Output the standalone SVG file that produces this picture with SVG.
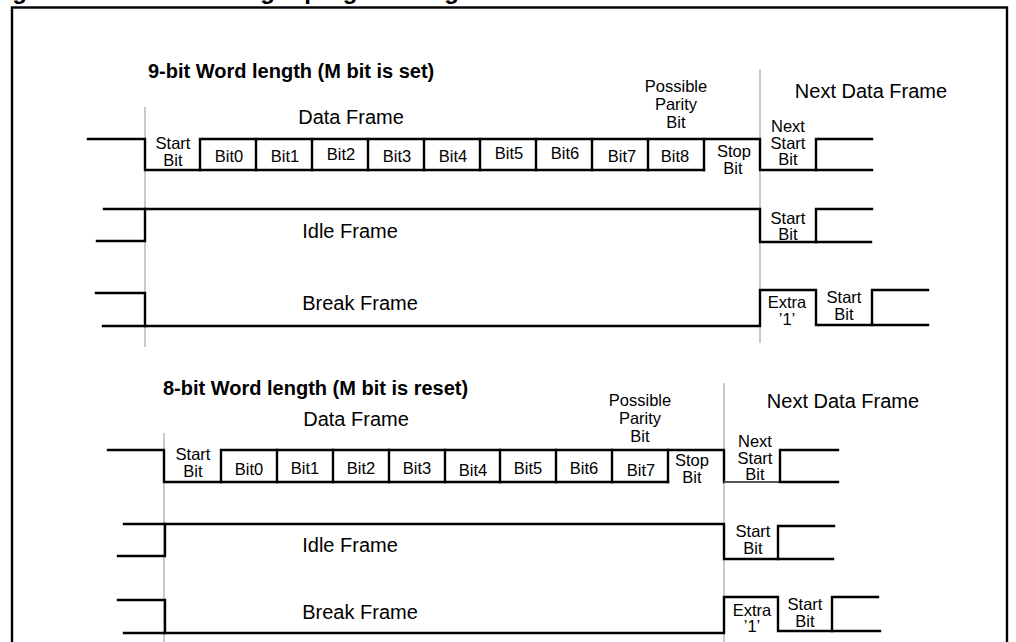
<svg xmlns="http://www.w3.org/2000/svg" width="1016" height="642" viewBox="0 0 1016 642">
<style>
.frame{fill:none;stroke:#000;stroke-width:2.4}
.grid{stroke:#bdbdbd;stroke-width:1.6;fill:none}
.w{stroke:#000;stroke-width:2.4;fill:none;stroke-linecap:square;stroke-linejoin:miter}
.wg{stroke:#555;stroke-width:2;fill:none}
text{font-family:"Liberation Sans",Arial,Helvetica,sans-serif;fill:#000}
.cap{font-size:24px;font-weight:bold}
.h{font-size:20px;font-weight:bold}
.l{font-size:20px;text-anchor:middle}
.s{font-size:16.5px;text-anchor:middle}
</style>
<rect id="frame" class="frame" x="12" y="7.5" width="995" height="660"/>
<g id="caption">
<text class="cap" x="-9" y="-1">Figure</text>
<text class="cap" x="158" y="-1">Word length programming</text>
</g>

<g id="section-9bit">
<text id="title-9bit" class="h" x="148" y="78">9-bit Word length (M bit is set)</text>
<g id="guides-9bit">
<line class="grid" x1="145" y1="107" x2="145" y2="347"/>
<line class="grid" x1="760" y1="69" x2="760" y2="343"/>
</g>
<g id="data-frame-9bit">
<text class="l" x="351" y="124">Data Frame</text>
<text class="l" x="871" y="98">Next Data Frame</text>
<text class="s" x="676" y="92">Possible</text>
<text class="s" x="676" y="110">Parity</text>
<text class="s" x="676" y="128">Bit</text>
<text class="s" x="173" y="149">Start</text>
<text class="s" x="173" y="166">Bit</text>
<text class="s" x="229" y="162">Bit0</text>
<text class="s" x="285" y="162">Bit1</text>
<text class="s" x="341" y="160">Bit2</text>
<text class="s" x="397" y="162">Bit3</text>
<text class="s" x="453" y="162">Bit4</text>
<text class="s" x="509" y="159">Bit5</text>
<text class="s" x="565" y="159">Bit6</text>
<text class="s" x="622" y="162">Bit7</text>
<text class="s" x="675" y="162">Bit8</text>
<text class="s" x="734" y="157">Stop</text>
<text class="s" x="733" y="174">Bit</text>
<text class="s" x="788" y="132">Next</text>
<text class="s" x="788" y="149">Start</text>
<text class="s" x="788" y="165">Bit</text>
</g>
<g id="idle-frame-9bit">
<text class="l" x="350" y="238">Idle Frame</text>
<text class="s" x="788" y="224">Start</text>
<text class="s" x="788" y="240">Bit</text>
</g>
<g id="break-frame-9bit">
<text class="l" x="360" y="310">Break Frame</text>
<text class="s" x="787" y="308">Extra</text>
<text class="s" x="787" y="325">’1’</text>
<text class="s" x="844" y="303">Start</text>
<text class="s" x="844" y="320">Bit</text>
</g>
</g>

<g id="section-8bit">
<text id="title-8bit" class="h" x="163" y="395">8-bit Word length (M bit is reset)</text>
<g id="guides-8bit">
<line class="grid" x1="164" y1="433" x2="164" y2="642"/>
<line class="grid" x1="724" y1="383" x2="724" y2="642"/>
</g>
<g id="data-frame-8bit">
<text class="l" x="356" y="426">Data Frame</text>
<text class="l" x="843" y="408">Next Data Frame</text>
<text class="s" x="640" y="406">Possible</text>
<text class="s" x="640" y="424">Parity</text>
<text class="s" x="640" y="442">Bit</text>
<text class="s" x="193" y="460">Start</text>
<text class="s" x="193" y="477">Bit</text>
<text class="s" x="249" y="475">Bit0</text>
<text class="s" x="305" y="474">Bit1</text>
<text class="s" x="361" y="474">Bit2</text>
<text class="s" x="417" y="474">Bit3</text>
<text class="s" x="473" y="476">Bit4</text>
<text class="s" x="528" y="474">Bit5</text>
<text class="s" x="584" y="474">Bit6</text>
<text class="s" x="641" y="476">Bit7</text>
<text class="s" x="692" y="466">Stop</text>
<text class="s" x="692" y="483">Bit</text>
<text class="s" x="755" y="447">Next</text>
<text class="s" x="755" y="464">Start</text>
<text class="s" x="755" y="480">Bit</text>
</g>
<g id="idle-frame-8bit">
<text class="l" x="350" y="552">Idle Frame</text>
<text class="s" x="753" y="537">Start</text>
<text class="s" x="753" y="554">Bit</text>
</g>
<g id="break-frame-8bit">
<text class="l" x="360" y="619">Break Frame</text>
<text class="s" x="752" y="616">Extra</text>
<text class="s" x="752" y="632">’1’</text>
<text class="s" x="805" y="610">Start</text>
<text class="s" x="805" y="627">Bit</text>
</g>
</g>

<g id="connectors">
<g id="wave-data-9bit">
<path class="w" d="M88,139 H145 V170 H704"/>
<path class="w" d="M200,170 V139 H760 V170 H872"/>
<path class="w" d="M816,170 V139 H872"/>
<path class="w" d="M256,139 V170 M312,139 V170 M368,139 V170 M424,139 V170 M480,139 V170 M536,139 V170 M592,139 V170 M648,139 V170 M704,139 V170"/>
</g>
<g id="wave-idle-9bit">
<path class="w" d="M104,209 H760 V242 H871"/>
<path class="w" d="M97,241 H145 V209"/>
<path class="w" d="M816,242 V209 H872"/>
</g>
<g id="wave-break-9bit">
<path class="w" d="M96,293 H145 V326"/>
<path class="w" d="M103,326 H760 V290 H816 V325 H928"/>
<path class="w" d="M872,325 V290 H928"/>
</g>
<g id="wave-data-8bit">
<path class="w" d="M108,450 H164 V482 H668"/>
<path class="w" d="M221,482 V450 H724 V482"/>
<path class="wg" d="M724,482 H780"/>
<path class="w" d="M780,482 H838 M780,482 V450 H838"/>
<path class="w" d="M277,450 V482 M333,450 V482 M389,450 V482 M445,450 V482 M500,450 V482 M556,450 V482 M612,450 V482 M668,450 V482"/>
</g>
<g id="wave-idle-8bit">
<path class="w" d="M124,524 H724 V559 H833"/>
<path class="w" d="M118,556 H165 V524"/>
<path class="w" d="M778,559 V526 H834"/>
</g>
<g id="wave-break-8bit">
<path class="w" d="M118,600 H165 V633"/>
<path class="w" d="M124,633 H724 V597 H778 V631 H880"/>
<path class="w" d="M832,631 V597 H878"/>
</g>
</g>
</svg>
